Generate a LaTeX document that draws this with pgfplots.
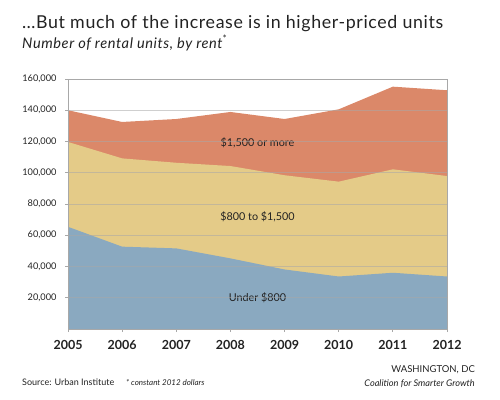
\documentclass[border=0pt]{standalone}
\usepackage{fontspec}
\setmainfont{Lato}
\usepackage{pgfplots}
\pgfplotsset{compat=1.18}
\definecolor{cblue}{HTML}{8AA9C0}
\definecolor{cyel}{HTML}{E4CB88}
\definecolor{corange}{HTML}{DB8869}
\definecolor{gridc}{HTML}{A8A8A8}
\definecolor{txt}{HTML}{222222}
\begin{document}
\begin{tikzpicture}[x=1pt,y=1pt]
\path (0,0) rectangle (500,-399);
\node[anchor=base west, inner sep=0pt, font=\fontsize{17.8}{20}\selectfont\addfontfeature{LetterSpace=3.5}, text=txt] at (22,-28) {\ldots But much of the increase is in higher-priced units};
\node[anchor=base west, inner sep=0pt, font=\fontsize{14.6}{16}\selectfont\itshape\addfontfeature{LetterSpace=4}, text=txt] at (22,-48) {Number of rental units, by rent\textsuperscript{*}};
\begin{axis}[
  at={(68pt,-329pt)}, anchor=south west,
  scale only axis, width=379pt, height=250pt,
  xmin=2005, xmax=2012, ymin=0, ymax=160000,
  xtick={2005,2006,2007,2008,2009,2010,2011,2012},
  xticklabels={2005,2006,2007,2008,2009,2010,2011,2012},
  ytick={20000,40000,60000,80000,100000,120000,140000,160000},
  yticklabels={{20,000},{40,000},{60,000},{80,000},{100,000},{120,000},{140,000},{160,000}},
  x tick label style={font=\bfseries\fontsize{12.5}{14}\selectfont, text=txt},
  xticklabel shift=5pt,
  y tick label style={font=\fontsize{9.2}{11}\selectfont, text=txt},
  yticklabel shift=5pt,
  scaled y ticks=false,
  axis line style={gridc, line width=1pt},
  tick style={gridc, line width=0.8pt},
  tick align=outside, major tick length=3pt,
  xtick pos=bottom, ytick pos=left,
  ymajorgrids, major grid style={gridc, opacity=0.55, line width=0.8pt},
  axis on top,
  clip=false,
]
\addplot[draw=none, fill=corange] coordinates {(2005,140000) (2006,132500) (2007,134400) (2008,138900) (2009,134400) (2010,140600) (2011,155100) (2012,152800)} \closedcycle;
\addplot[draw=none, fill=cyel] coordinates {(2005,119700) (2006,109200) (2007,106400) (2008,104300) (2009,98400) (2010,94300) (2011,102200) (2012,97900)} \closedcycle;
\addplot[draw=none, fill=cblue] coordinates {(2005,65400) (2006,52700) (2007,51600) (2008,45200) (2009,38100) (2010,33600) (2011,36000) (2012,33600)} \closedcycle;
\node[font=\fontsize{10.8}{12}\selectfont, text=txt] at (axis cs:2008.5,119000) {\$1,500 or more};
\node[font=\fontsize{10.8}{12}\selectfont, text=txt] at (axis cs:2008.5,72000) {\$800 to \$1,500};
\node[font=\fontsize{10.8}{12}\selectfont, text=txt] at (axis cs:2008.5,20100) {Under \$800};
\end{axis}
\node[anchor=base west, inner sep=0pt, font=\fontsize{9}{10}\selectfont, text=txt] at (22,-385) {Source: Urban Institute};
\node[anchor=base west, inner sep=0pt, font=\fontsize{8}{9}\selectfont\itshape, text=txt] at (126,-385) {* constant 2012 dollars};
\node[anchor=base east, inner sep=0pt, font=\fontsize{9.5}{11}\selectfont, text=txt] at (475,-372) {WASHINGTON, DC};
\node[anchor=base east, inner sep=0pt, font=\fontsize{9.2}{11}\selectfont\itshape, text=txt] at (475,-386) {Coalition for Smarter Growth};
\end{tikzpicture}
\end{document}
